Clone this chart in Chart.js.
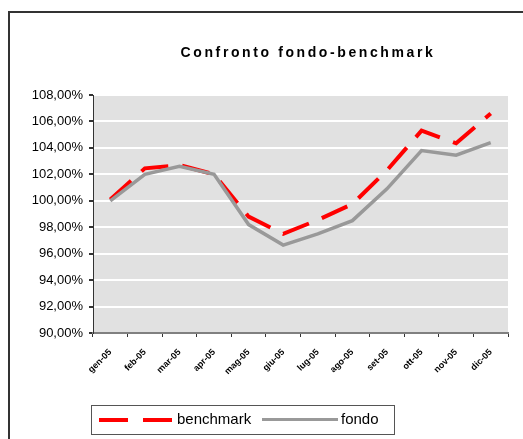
<!DOCTYPE html>
<html lang="it">
<head>
    <meta charset="UTF-8">
    <title>Confronto fondo-benchmark</title>
    <script src="https://cdn.jsdelivr.net/npm/chart.js"></script>
    <style>
        body { margin: 0; background: #fff; font-family: "Liberation Sans", Arial, sans-serif; }
        #wrap { position: relative; width: 523px; height: 439px; overflow: hidden; }
        #frame { position: absolute; left: 8px; top: 11px; width: 600px; height: 500px; border: 2px solid #333; }
        #title { position: absolute; left: 0; top: 44px; width: 616px; text-align: center; font-weight: bold; font-size: 14px; letter-spacing: 2.6px; color: #000; }
        #legend { position: absolute; left: 91px; top: 405px; width: 302px; height: 28px; border: 1.5px solid #555; }
        .dash { position: absolute; top: 12px; height: 4px; background: #ff0000; }
        .gline { position: absolute; top: 12px; height: 3px; background: #999; }
        .ltxt { position: absolute; top: 4px; font-size: 15px; color: #000; }
        canvas { position: absolute; left: 0; top: 0; }
    </style>
</head>
<body>
<div id="wrap">
    <div id="frame"></div>
    <canvas id="chart" width="523" height="439"></canvas>
    <div id="title">Confronto fondo-benchmark</div>
    <div id="legend">
        <div class="dash" style="left:7px; width:29px;"></div>
        <div class="dash" style="left:51px; width:29px;"></div>
        <span class="ltxt" style="left:85px;">benchmark</span>
        <div class="gline" style="left:170px; width:76px;"></div>
        <span class="ltxt" style="left:249px;">fondo</span>
    </div>
</div>

<script>
    // mesi
    const mesi = ['gen-05', 'feb-05', 'mar-05', 'apr-05', 'mag-05', 'giu-05',
                  'lug-05', 'ago-05', 'set-05', 'ott-05', 'nov-05', 'dic-05'];

    // valori in percentuale
    const benchmark = [100.1, 102.45, 102.7, 102.0, 98.8, 97.5, 98.55, 99.75, 102.3, 105.3, 104.35, 106.6];
    const fondo = [100.0, 102.0, 102.6, 102.0, 98.2, 96.65, 97.5, 98.5, 100.9, 103.8, 103.45, 104.4];

    const yMin = 90;
    const yMax = 108;
    const yStep = 2;

    // sfondo grigio dell'area del grafico
    const plotBg = {
        id: 'plotBg',
        beforeDraw(chart) {
            const { ctx, chartArea: a } = chart;
            ctx.save();
            ctx.fillStyle = '#e1e1e1';
            ctx.fillRect(a.left, a.top, a.right - a.left, a.bottom - a.top);
            ctx.restore();
        }
    };

    const ctx = document.getElementById('chart').getContext('2d');
    const chart = new Chart(ctx, {
        type: 'line',
        data: {
            labels: mesi,
            datasets: [
                {
                    label: 'benchmark',
                    data: benchmark,
                    borderColor: '#ff0000',
                    borderWidth: 4,
                    borderDash: [28, 14],
                    pointRadius: 0,
                    tension: 0,
                    order: 1,
                },
                {
                    label: 'fondo',
                    data: fondo,
                    borderColor: '#999999',
                    borderWidth: 3.5,
                    pointRadius: 0,
                    tension: 0,
                    order: 0,
                },
            ],
        },
        options: {
            responsive: false,
            animation: false,
            layout: { padding: { left: 0, top: 95, right: 15, bottom: 0 } },
            plugins: {
                legend: { display: false },
                title: { display: false },
                tooltip: { enabled: false },
            },
            scales: {
                x: {
                    offset: true,
                    afterFit(scale) { scale.height = 439 - 333; },
                    grid: {
                        drawOnChartArea: false,
                        drawTicks: true,
                        tickLength: 4,
                        tickColor: '#333',
                        offset: true,
                    },
                    border: { display: true, color: '#808080', width: 2 },
                    ticks: {
                        minRotation: 45,
                        maxRotation: 45,
                        autoSkip: false,
                        padding: 10,
                        color: '#000',
                        font: { family: '"Liberation Sans", Arial, sans-serif', size: 9, weight: 'bold' },
                    },
                },
                y: {
                    min: yMin,
                    max: yMax,
                    afterFit(scale) { scale.width = 93; },
                    grid: {
                        color: '#ffffff',
                        lineWidth: 2,
                        drawTicks: true,
                        tickLength: 4,
                        tickColor: '#333',
                    },
                    border: { display: true, color: '#333', width: 1 },
                    ticks: {
                        stepSize: yStep,
                        padding: 6,
                        color: '#000',
                        font: { family: '"Liberation Sans", Arial, sans-serif', size: 13 },
                        callback: (v) => v.toFixed(2).replace('.', ',') + '%',
                    },
                },
            },
        },
        plugins: [plotBg],
    });
</script>
</body>
</html>
